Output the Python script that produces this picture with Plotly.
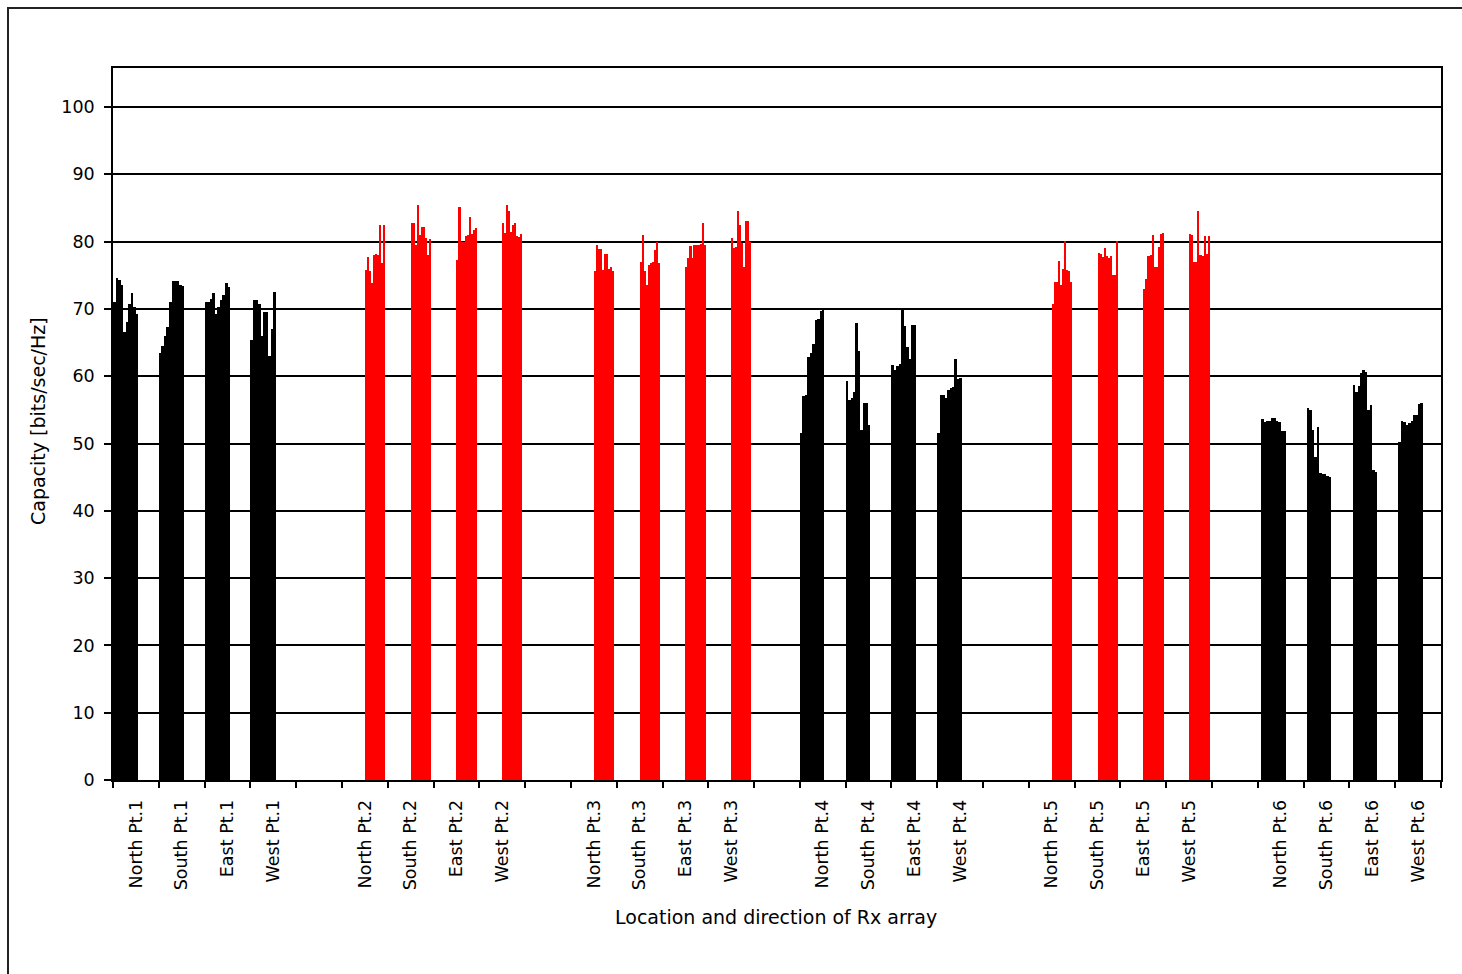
import plotly.graph_objects as go

# Capacity per receive position, one list per location/direction cluster
pt1_north = [71.1, 74.6, 74.3, 73.5, 66.5, 68.0, 70.8, 72.3, 70.3, 69.2]
pt1_south = [63.4, 64.5, 66.0, 67.3, 71.1, 74.1, 74.2, 74.1, 73.6, 73.4]
pt1_east = [71.1, 71.1, 71.5, 72.4, 69.2, 70.3, 71.3, 72.0, 73.8, 73.2]
pt1_west = [65.4, 71.4, 71.3, 70.8, 66.0, 69.5, 69.5, 63.0, 67.0, 72.5]

pt2_north = [75.8, 77.7, 75.6, 73.8, 78.0, 78.1, 78.0, 82.5, 76.8, 82.5]
pt2_south = [82.7, 82.7, 79.5, 85.5, 81.0, 82.1, 82.1, 80.5, 78.0, 80.4]
pt2_east = [77.2, 85.2, 80.0, 80.0, 80.8, 81.0, 83.6, 81.2, 81.8, 82.0]
pt2_west = [82.7, 81.3, 85.5, 84.5, 81.5, 82.5, 82.8, 80.8, 80.7, 81.2]

pt3_north = [75.7, 79.5, 78.9, 78.9, 75.8, 78.2, 78.2, 76.0, 76.2, 75.7]
pt3_south = [77.0, 81.0, 75.7, 73.5, 76.5, 76.8, 77.0, 78.8, 80.0, 76.8]
pt3_east = [76.2, 77.6, 79.4, 77.6, 79.5, 79.5, 79.5, 79.6, 82.8, 79.5]
pt3_west = [80.6, 79.1, 79.2, 84.6, 82.4, 79.8, 76.3, 83.0, 83.0, 80.0]

pt4_north = [51.5, 57.1, 57.2, 62.8, 63.5, 64.8, 68.4, 68.5, 69.7, 69.9]
pt4_south = [59.3, 56.5, 56.7, 57.7, 67.9, 63.7, 52.0, 56.0, 56.0, 52.7]
pt4_east = [61.6, 60.9, 61.5, 61.8, 69.8, 67.5, 64.4, 62.5, 67.6, 67.6]
pt4_west = [51.5, 57.2, 57.2, 56.8, 57.9, 58.2, 58.4, 62.5, 59.6, 59.7]

pt5_north = [70.8, 74.0, 74.0, 77.1, 73.6, 75.9, 80.1, 75.8, 75.6, 74.0]
pt5_south = [78.3, 78.2, 77.7, 79.1, 77.9, 77.6, 77.9, 75.0, 75.0, 80.1]
pt5_east = [72.9, 74.4, 77.9, 78.0, 81.0, 76.2, 76.3, 79.2, 81.2, 81.3]
pt5_west = [81.1, 81.0, 77.0, 77.0, 84.6, 78.0, 77.9, 80.9, 78.2, 80.9]

pt6_north = [53.6, 53.2, 53.3, 53.4, 53.8, 53.8, 53.4, 53.2, 51.9, 51.9]
pt6_south = [55.3, 55.0, 52.0, 48.0, 52.4, 45.6, 45.5, 45.4, 45.1, 45.0]
pt6_east = [58.7, 57.6, 58.6, 60.5, 60.9, 60.7, 55.0, 55.7, 46.0, 45.8]
pt6_west = [50.3, 53.3, 53.2, 52.8, 53.0, 53.3, 54.2, 54.2, 55.9, 56.0]

directions = ["North", "South", "East", "West"]
points = ["Pt.1", "Pt.2", "Pt.3", "Pt.4", "Pt.5", "Pt.6"]

point_data = [
    [pt1_north, pt1_south, pt1_east, pt1_west],
    [pt2_north, pt2_south, pt2_east, pt2_west],
    [pt3_north, pt3_south, pt3_east, pt3_west],
    [pt4_north, pt4_south, pt4_east, pt4_west],
    [pt5_north, pt5_south, pt5_east, pt5_west],
    [pt6_north, pt6_south, pt6_east, pt6_west],
]

# colour and cluster placement inside each category slot (start, span, in slot units from centre)
point_style = [
    ("#000000", -0.50, 0.555),
    ("#ff0000", 0.00, 0.44),
    ("#ff0000", 0.00, 0.44),
    ("#000000", -0.50, 0.535),
    ("#ff0000", 0.00, 0.45),
    ("#000000", -0.43, 0.535),
]

SLOTS_PER_POINT = 5  # four directions plus an empty spacer slot
n_slots = SLOTS_PER_POINT * len(points) - 1

fig = go.Figure()
tickvals, ticktext = [], []
for p, (name, clusters) in enumerate(zip(points, point_data)):
    color, start, span = point_style[p]
    xs, ys, offs, wids = [], [], [], []
    for d, values in enumerate(clusters):
        slot = p * SLOTS_PER_POINT + d
        tickvals.append(slot)
        ticktext.append(f"{directions[d]} {name}")
        w = span / len(values)
        for k, v in enumerate(values):
            xs.append(slot)
            ys.append(v)
            offs.append(start + k * w)
            wids.append(w * 1.02)
    fig.add_trace(go.Bar(
        x=xs, y=ys, offset=offs, width=wids,
        marker=dict(color=color, line=dict(width=0)),
        name=name, showlegend=False,
    ))

W, H = 1462, 974
ML, MR, MT, MB = 113, 21, 68, 194
pw, ph = W - ML - MR, H - MT - MB

font = dict(family="DejaVu Sans, Verdana, sans-serif", color="#000000")

fig.update_layout(
    width=W, height=H, autosize=False,
    margin=dict(l=ML, r=MR, t=MT, b=MB, pad=0),
    paper_bgcolor="#ffffff", plot_bgcolor="#ffffff",
    barmode="overlay", bargap=0,
    font=dict(size=18, **font),
    xaxis=dict(
        range=[-0.5, n_slots - 0.5],
        tickmode="array", tickvals=tickvals, ticktext=ticktext,
        tickangle=-90, ticks="", ticklabelstandoff=11,
        tickfont=dict(size=17.5, **font),
        showgrid=False, zeroline=False,
        showline=True, linecolor="#000000", linewidth=1.5, mirror=True,
        minor=dict(tick0=-0.5, dtick=1, ticks="outside", ticklen=6,
                   tickwidth=1.5, tickcolor="#000000", showgrid=False),
    ),
    yaxis=dict(
        range=[0, 105.8],
        tickmode="array", tickvals=list(range(0, 101, 10)),
        ticks="outside", ticklen=7, tickwidth=1.5, tickcolor="#000000",
        ticklabelstandoff=6,
        tickfont=dict(size=17.5, **font),
        showgrid=True, gridcolor="#000000", gridwidth=1.6,
        zeroline=False,
        showline=True, linecolor="#000000", linewidth=1.5, mirror=True,
    ),
    annotations=[
        dict(text="Location and direction of Rx array", xref="paper", yref="paper",
             x=(776 - ML) / pw, y=(H - MB - 917) / ph, xanchor="center", yanchor="middle",
             showarrow=False, font=dict(size=19, **font)),
        dict(text="Capacity [bits/sec/Hz]", xref="paper", yref="paper",
             x=(38 - ML) / pw, y=(H - MB - 421) / ph, xanchor="center", yanchor="middle",
             textangle=-90, showarrow=False, font=dict(size=19, **font)),
    ],
    shapes=[
        dict(type="rect", xref="paper", yref="paper", layer="below",
             x0=(8 - ML) / pw, x1=(W + 10 - ML) / pw,
             y0=(H - MB - (H + 10)) / ph, y1=(H - MB - 8) / ph,
             line=dict(color="#222222", width=2), fillcolor="rgba(0,0,0,0)"),
    ],
)

fig.write_html("out.html")
